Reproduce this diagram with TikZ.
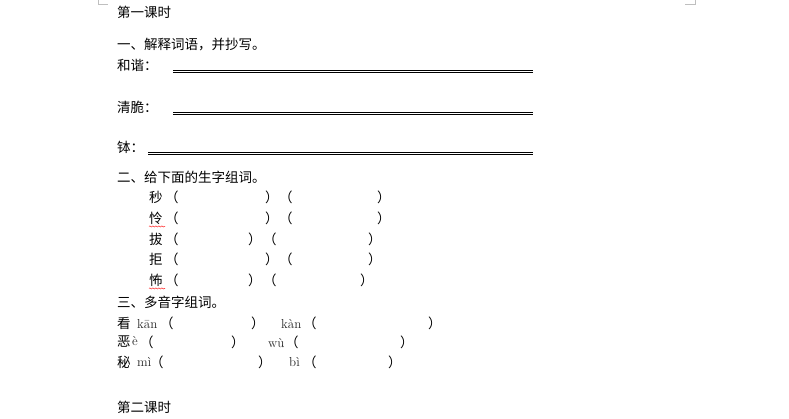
\documentclass[tikz,border=0pt]{standalone}
\usepackage{fontspec}
\newfontfamily\cjk{Noto Sans CJK SC}
\usetikzlibrary{decorations.pathmorphing}
\begin{document}
\begin{tikzpicture}[x=1pt,y=-1pt,
txt/.style={anchor=west, inner sep=0pt, font=\cjk\fontsize{13.5}{13.5}\selectfont},
ouv/.style={txt, xshift=-8pt},
py/.style={anchor=west, inner sep=0pt, font=\fontsize{13}{13}\selectfont, text=black!85},
rule/.style={double, double distance=1.2pt, line width=0.7pt},
wavy/.style={red, decorate, decoration={snake, amplitude=0.6pt, segment length=3pt}},
]
\useasboundingbox (0,0) rectangle (789,419);
    % Marques de page
    \draw[gray!50] (98,0) -- (98,4) -- (108,4);
    \draw[gray!50] (695,0) -- (695,4) -- (685,4);

    % Titre et partie un
    \node [txt] (titre) at (117,12) {第一课时};
    \node [txt] (partie1) at (117,45) {一、解释词语，并抄写。};
    \node [txt] (hexie) at (117,65) {和谐：};
    \node [txt] (qingcui) at (117,107) {清脆：};
    \node [txt] (bo) at (117,147) {钵：};
    \coordinate (l1a) at (173,71.5); \coordinate (l1b) at (533,71.5);
    \coordinate (l2a) at (173,113.5); \coordinate (l2b) at (533,113.5);
    \coordinate (l3a) at (148,153.5); \coordinate (l3b) at (533,153.5);
    \draw [rule] (l1a) -- (l1b);
    \draw [rule] (l2a) -- (l2b);
    \draw [rule] (l3a) -- (l3b);

    % Partie deux
    \node [txt] (partie2) at (117,177) {二、给下面的生字组词。};
    \foreach \y/\c/\a/\b/\cc/\d/\nom in {
        197/秒/265/287/377/0/miao,
        218/怜/265/287/377/1/lian,
        239/拔/248/271/368/0/ba,
        259/拒/265/287/368/0/ju,
        280/怖/248/271/360/1/bu}{
      \node [txt] (\nom) at (149,\y) {\c};
      \node [ouv] (\nom o1) at (173,\y) {（};
      \node [txt] (\nom f1) at (\a,\y) {）};
      \node [ouv] (\nom o2) at (\b,\y) {（};
      \node [txt] (\nom f2) at (\cc,\y) {）};
      \ifnum\d=1 \draw [wavy] (\nom.south west) ++(0,2) -- ++(16,0); \fi
    }

    % Partie trois
    \node [txt] (partie3) at (117,302) {三、多音字组词。};
    \node [txt] (kan) at (117,323) {看};
    \node [py] (kan1) at (137,324) {kān};
    \node [ouv] (kano1) at (168,323) {（};
    \node [txt] (kanf1) at (251,323) {）};
    \node [py] (kan2) at (281,324) {kàn};
    \node [ouv] (kano2) at (311,323) {（};
    \node [txt] (kanf2) at (428,323) {）};
    \node [txt] (e) at (117,342) {恶};
    \node [py] (e1) at (132,341) {è};
    \node [ouv] (eo1) at (148,342) {（};
    \node [txt] (ef1) at (231,342) {）};
    \node [py] (wu) at (268,343) {wù};
    \node [ouv] (eo2) at (293,342) {（};
    \node [txt] (ef2) at (400,342) {）};
    \node [txt] (mi) at (117,362) {秘};
    \node [py] (mi1) at (137,362) {mì};
    \node [ouv] (mio1) at (158,362) {（};
    \node [txt] (mif1) at (258,362) {）};
    \node [py] (bi) at (289,362) {bì};
    \node [ouv] (mio2) at (311,362) {（};
    \node [txt] (mif2) at (388,362) {）};

    \node [txt] (titre2) at (117,407) {第二课时};
\end{tikzpicture}
\end{document}
